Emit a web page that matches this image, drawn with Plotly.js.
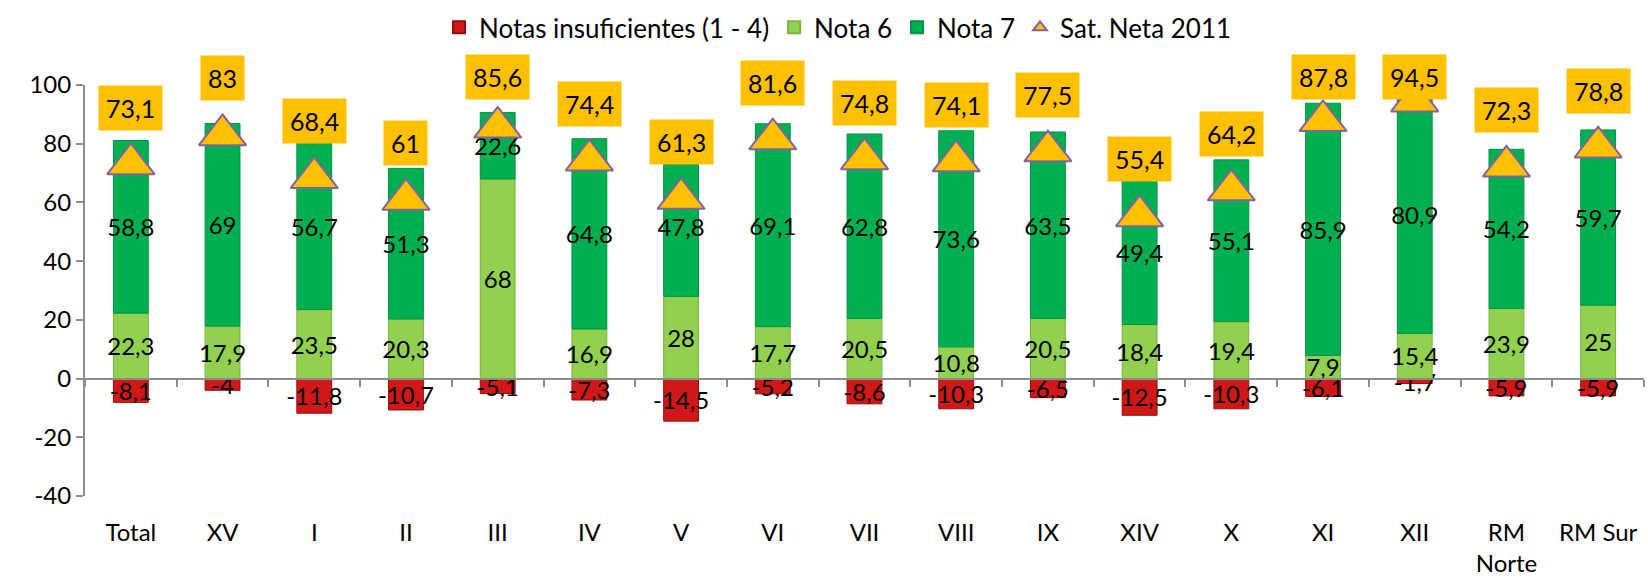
<!DOCTYPE html>
<html>
<head>
<meta charset="utf-8">
<script src="https://cdn.plot.ly/plotly-3.0.1.min.js"></script>
<style>html,body{margin:0;padding:0;background:#fff;}#chart{width:1648px;height:582px;}</style>
</head>
<body>
<div id="chart"></div>
<script>
const categories = ['Total','XV','I','II','III','IV','V','VI','VII','VIII','IX','XIV','X','XI','XII','RM<br>Norte','RM Sur'];
const insuficientes = [-8.1,-4,-11.8,-10.7,-5.1,-7.3,-14.5,-5.2,-8.6,-10.3,-6.5,-12.5,-10.3,-6.1,-1.7,-5.9,-5.9];
const nota6 = [22.3,17.9,23.5,20.3,68,16.9,28,17.7,20.5,10.8,20.5,18.4,19.4,7.9,15.4,23.9,25];
const nota7 = [58.8,69,56.7,51.3,22.6,64.8,47.8,69.1,62.8,73.6,63.5,49.4,55.1,85.9,80.9,54.2,59.7];
const satNeta = [73.1,83,68.4,61,85.6,74.4,61.3,81.6,74.8,74.1,77.5,55.4,64.2,87.8,94.5,72.3,78.8];
const yTickVals = [-40,-20,0,20,40,60,80,100];
const yTickText = ['-40','-20','0','20','40','60','80','100'];

const FONT = 'Lato, "Open Sans", sans-serif';
const fmt = v => String(v).replace('.', ',');
const yMin = -40, yMax = 100;

function barTrace(name, vals, color, lineColor) {
  return {
    type: 'bar', name: name, x: categories, y: vals,
    text: vals.map(fmt), textposition: 'inside', insidetextanchor: 'middle',
    textangle: 0, constraintext: 'none', cliponaxis: false,
    textfont: {family: FONT, size: 24, color: '#000'},
    marker: {color: color, line: {color: lineColor, width: 1}},
    hoverinfo: 'skip'
  };
}

const traces = [
  barTrace('Notas insuficientes (1 - 4)', insuficientes, '#D01818', '#9A0A0A'),
  barTrace('Nota 6', nota6, '#92D050', '#79B43C'),
  barTrace('Nota 7', nota7, '#00B050', '#00914A'),
  {
    type: 'scatter', mode: 'markers', name: 'Sat. Neta 2011',
    x: categories, y: satNeta, xaxis: 'x2', yaxis: 'y',
    marker: {symbol: 'triangle-up', size: 41, color: '#FFC000', line: {color: '#8064A2', width: 2}},
    cliponaxis: false, hoverinfo: 'skip'
  }
];

const annotations = categories.map((c, i) => ({
  x: c, xref: 'x', y: Math.min(satNeta[i] + 16.5, 99.9), yref: 'y', yshift: 8,
  text: fmt(satNeta[i]), showarrow: false, bgcolor: '#FFC000', borderpad: 7,
  font: {family: FONT, size: 25, color: '#000'}, xanchor: 'center', yanchor: 'middle'
}));

const layout = {
  width: 1648, height: 582,
  margin: {l: 85, r: 4, t: 80, b: 86},
  paper_bgcolor: '#fff', plot_bgcolor: '#fff',
  font: {family: FONT, size: 24, color: '#000'},
  barmode: 'relative', bargap: 0.62,
  showlegend: true,
  legend: {orientation: 'h', x: 0.483, xanchor: 'center', y: 1.14, yanchor: 'middle',
           font: {family: FONT, size: 26, color: '#000'}, itemsizing: 'constant', traceorder: 'normal'},
  xaxis: {type: 'category', categoryorder: 'array', categoryarray: categories,
          range: [-0.5, categories.length - 0.5], autorange: false,
          showline: false, ticks: '', showgrid: false, zeroline: false,
          ticklabelstandoff: 20, tickfont: {family: FONT, size: 24, color: '#000'}},
  xaxis2: {type: 'category', matches: 'x', overlaying: 'x', anchor: 'free',
           position: (0 - yMin) / (yMax - yMin), side: 'bottom',
           showline: true, linecolor: '#8C8C8C', linewidth: 2,
           ticks: 'outside', tickson: 'boundaries', ticklen: 7, tickwidth: 2, tickcolor: '#8C8C8C',
           showticklabels: false, showgrid: false, zeroline: false},
  yaxis: {range: [yMin, yMax], autorange: false, tickvals: yTickVals, ticktext: yTickText,
          showline: true, linecolor: '#8C8C8C', linewidth: 2,
          ticks: 'outside', ticklen: 7, tickwidth: 2, tickcolor: '#8C8C8C',
          showgrid: false, zeroline: false,
          tickfont: {family: FONT, size: 24, color: '#000'}},
  annotations: annotations
};

Plotly.newPlot('chart', traces, layout, {displayModeBar: false, staticPlot: true});
</script>
</body>
</html>
